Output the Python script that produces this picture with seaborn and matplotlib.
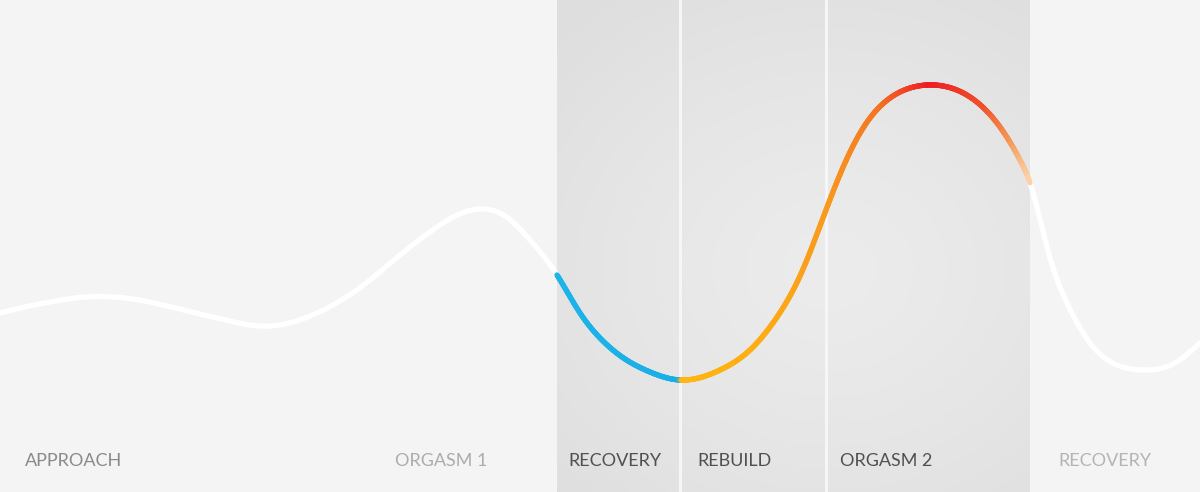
import matplotlib
matplotlib.use("Agg")
import matplotlib.pyplot as plt
import numpy as np
import pandas as pd
import seaborn as sns
from matplotlib.collections import LineCollection
from matplotlib.colors import LinearSegmentedColormap

# curve (pixel-like units, y grows downward)
curve_x = [0, 25, 50, 75, 98, 125, 150, 175, 200, 225, 259, 285, 310, 340, 370,
           400, 430, 455, 479, 505, 530, 557, 580, 600, 625, 650, 680, 720, 750, 775,
           800, 826, 850, 870, 890, 910, 927, 943, 970, 1000, 1020, 1030, 1050, 1067,
           1090, 1117, 1143, 1173, 1200]
curve_y = [313, 307, 302, 298, 296.5, 298, 302, 308, 314, 320, 326, 324, 316, 301, 280,
           255, 232, 216, 209, 216, 240, 275, 313, 338, 359, 372, 380, 370, 350, 320,
           276, 210, 152, 118, 98, 88, 85, 86, 97, 127, 160, 183, 258, 303,
           343, 365, 370, 364, 343]

# phases
phase_labels = ["APPROACH", "ORGASM 1", "RECOVERY", "REBUILD", "ORGASM 2", "RECOVERY"]
label_x = [25, 395, 568, 697, 840, 1058]
label_colors = ["#8a8a8a", "#acacac", "#505050", "#505050", "#505050", "#b4b4b4"]

band_start, band_end = 557, 1030
dividers = [680, 826]

# colour stops along x inside the band
stop_x = [557, 679, 681, 760, 826, 880, 930, 985, 1012, 1030]
stop_c = ["#1cb5e8", "#1aaee6", "#ffb612", "#ffad14", "#f99a1e", "#f47424",
          "#ed1c24", "#f0502c", "#f59a55", "#fbd2a8"]


def natural_spline(x, y, xs):
    x = np.asarray(x, float); y = np.asarray(y, float)
    n = len(x); h = np.diff(x)
    A = np.zeros((n, n)); b = np.zeros(n)
    A[0, 0] = A[-1, -1] = 1
    for i in range(1, n - 1):
        A[i, i - 1] = h[i - 1]; A[i, i] = 2 * (h[i - 1] + h[i]); A[i, i + 1] = h[i]
        b[i] = 6 * ((y[i + 1] - y[i]) / h[i] - (y[i] - y[i - 1]) / h[i - 1])
    M = np.linalg.solve(A, b)
    idx = np.clip(np.searchsorted(x, xs) - 1, 0, n - 2)
    hi = h[idx]; a = x[idx + 1] - xs; c = xs - x[idx]
    return (M[idx] * a**3 / (6 * hi) + M[idx + 1] * c**3 / (6 * hi)
            + (y[idx] / hi - M[idx] * hi / 6) * a + (y[idx + 1] / hi - M[idx + 1] * hi / 6) * c)


sns.set_theme(style="white")
plt.rcParams["font.family"] = ["Lato", "DejaVu Sans"]

fig = plt.figure(figsize=(12, 4.92), dpi=100)
ax = fig.add_axes([0, 0, 1, 1])
fig.patch.set_facecolor("#f4f4f4")
ax.set_facecolor("#f4f4f4")

# shaded band with soft radial gradient
gx = np.linspace(band_start, band_end, 240)
gy = np.linspace(0, 492, 250)
GX, GY = np.meshgrid(gx, gy)
r = np.sqrt(((GX - 830) / 380) ** 2 + ((GY - 270) / 330) ** 2)
shade = np.clip(r, 0, 1) ** 1.3
val = 0.925 - (0.925 - 0.873) * shade
ax.imshow(np.dstack([val, val, val]), extent=[band_start, band_end, 492, 0],
          aspect="auto", zorder=0, interpolation="bilinear")

for d in dividers:
    ax.axvline(d, color="#f6f6f6", lw=2.2, zorder=1)

# smooth curve
xs = np.linspace(0, 1200, 1800)
ys = natural_spline(curve_x, curve_y, xs)
df = pd.DataFrame({"x": xs, "y": ys})

cmap_pos = (np.array(stop_x) - stop_x[0]) / (stop_x[-1] - stop_x[0])
cmap = LinearSegmentedColormap.from_list("heat", list(zip(cmap_pos, stop_c)))
xm = (xs[:-1] + xs[1:]) / 2
inside = (xm >= band_start) & (xm <= band_end)
cols = cmap((xm - stop_x[0]) / (stop_x[-1] - stop_x[0]))

# white parts through seaborn, coloured part on top
sns.lineplot(data=df[df.x <= band_start + 1], x="x", y="y", color="white",
             lw=3.8, ax=ax, sort=False, zorder=2)
sns.lineplot(data=df[df.x >= band_end - 1], x="x", y="y", color="white",
             lw=3.8, ax=ax, sort=False, zorder=2)
pts = np.column_stack([xs, ys]).reshape(-1, 1, 2)
segs = np.concatenate([pts[:-1], pts[1:]], axis=1)
lc = LineCollection(segs[inside], colors=cols[inside], linewidths=3.8,
                    capstyle="round", zorder=3)
ax.add_collection(lc)
ax.set_xlim(0, 1200)
ax.set_ylim(492, 0)
ax.axis("off")

for lab, lx, lcol in zip(phase_labels, label_x, label_colors):
    ax.text(lx, 461, lab, color=lcol, fontsize=13, ha="left", va="center",
            zorder=4)

fig.savefig("out.png", dpi=100, facecolor=fig.get_facecolor())
